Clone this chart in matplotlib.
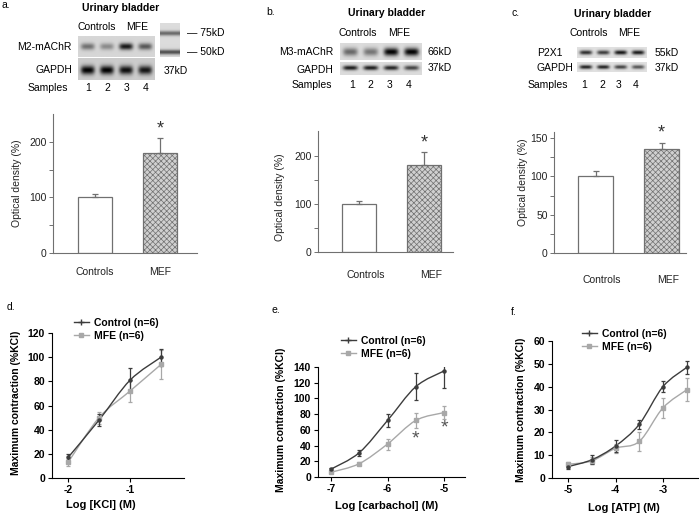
import numpy as np
import matplotlib
matplotlib.use('Agg')
from matplotlib import pyplot as plt
from matplotlib.path import Path
from matplotlib.patches import PathPatch
from matplotlib.lines import Line2D

plt.rcParams['font.family'] = ['Liberation Sans', 'DejaVu Sans']
plt.rcParams['hatch.linewidth'] = 0.5
plt.rcParams['hatch.color'] = '#707070'

# ---- data ----
groups = ['Controls', 'MEF']
od_a = [100, 180]
od_a_err = [6, 26]
od_b = [100, 182]
od_b_err = [7, 26]
od_c = [100, 136]
od_c_err = [7, 8]

# band darkness per lane (1..4)
m2_bands = [0.40, 0.30, 0.75, 0.50]
gapdh_a = [0.80, 0.80, 0.75, 0.72]
marker_bands = [0.45, 0.55]
m3_bands = [0.45, 0.40, 0.85, 0.85]
gapdh_b = [0.75, 0.75, 0.72, 0.60]
p2x1_bands = [0.70, 0.65, 0.80, 0.78]
gapdh_c = [0.75, 0.75, 0.62, 0.55]
lanes = ['1', '2', '3', '4']

kcl_x = [-2, -1.5, -1, -0.5]
kcl_ctrl = [17, 48, 81, 100]
kcl_ctrl_err = [3, 5, 10, 7]
kcl_mfe = [13, 50, 72, 94]
kcl_mfe_err = [3, 5, 9, 12]

cch_x = [-7, -6.5, -6, -5.5, -5]
cch_ctrl = [10, 31, 72, 115, 135]
cch_ctrl_err = [2, 4, 8, 17, 22]
cch_mfe = [6, 17, 42, 72, 82]
cch_mfe_err = [1, 2, 7, 9, 8]
cch_star = [(-5.5, 48), (-5, 62)]

atp_x = [-5, -4.5, -4, -3.5, -3, -2.5]
atp_ctrl = [5, 8, 14, 23.5, 40, 48.4]
atp_ctrl_err = [1.2, 2, 2.5, 2, 2.5, 3]
atp_mfe = [6, 7.5, 13, 16, 30.7, 38.6]
atp_mfe_err = [1, 1.5, 2, 4, 4.5, 5]

W, H = 700, 515
fig = plt.figure(figsize=(W / 100, H / 100), dpi=100)


def px_axes(x0, y0, x1, y1):
    return fig.add_axes([x0 / W, 1 - y1 / H, (x1 - x0) / W, (y1 - y0) / H])


def ftxt(x, y, s, **kw):
    kw.setdefault('fontsize', 7.5)
    kw.setdefault('va', 'center')
    fig.text(x / W, 1 - y / H, s, **kw)


def blot(box, levels, sy, bg, yc=0.5, sx=0.36):
    ax = px_axes(*box)
    n = len(levels)
    xs = np.linspace(0.5, n + 0.5, 200)
    ys = np.linspace(0, 1, 60)
    X, Y = np.meshgrid(xs, ys)
    img = np.full_like(X, bg)
    for k, lev in enumerate(levels, 1):
        img -= lev * np.exp(-((X - k) / sx) ** 4) * np.exp(-((Y - yc) / sy) ** 2)
    ax.imshow(img, cmap='gray', vmin=0, vmax=1, extent=(0.5, n + 0.5, 1, 0),
              aspect='auto', interpolation='bilinear')
    ax.axis('off')
    return ax


def bar_panel(box, vals, errs, ylim, major, minor, star_y, lab_dx, lab_pad):
    ax = px_axes(*box)
    x = np.arange(len(vals))
    ax.bar(x, vals, width=0.52, color=['white', '#d0d0d0'], edgecolor='#707070',
           hatch=['', 'xxxxxx'], linewidth=0.9)
    ax.errorbar(x, vals, yerr=[[0] * len(errs), errs], fmt='none', ecolor='#707070',
                elinewidth=0.9, capsize=2, capthick=0.9)
    ax.set_ylim(*ylim)
    ax.set_yticks(major)
    ax.set_yticks(minor, minor=True)
    ax.set_xticks(x + lab_dx)
    ax.set_xticklabels(groups, fontsize=7.5, color='#222222')
    ax.tick_params(axis='x', length=0, pad=lab_pad)
    ax.tick_params(axis='y', which='both', length=3, width=0.7, color='#707070',
                   labelsize=7.5, labelcolor='#222222', pad=1.5)
    for s in ['top', 'right']:
        ax.spines[s].set_visible(False)
    for s in ['left', 'bottom']:
        ax.spines[s].set_color('#707070')
        ax.spines[s].set_linewidth(0.8)
    ax.text(1, star_y, '*', ha='center', va='center', fontsize=13, color='#333333',
            clip_on=False)
    ax.set_ylabel('Optical density (%)', fontsize=7.5, color='#222222')
    return ax


def smooth(ax, x, y, color):
    pts = list(zip(x, y))
    verts = [pts[0]]
    codes = [Path.MOVETO]
    n = len(pts)
    for i in range(n - 1):
        p0 = np.array(pts[max(i - 1, 0)])
        p1 = np.array(pts[i])
        p2 = np.array(pts[i + 1])
        p3 = np.array(pts[min(i + 2, n - 1)])
        c1 = p1 + (p2 - p0) / 6
        c2 = p2 - (p3 - p1) / 6
        verts += [tuple(c1), tuple(c2), tuple(p2)]
        codes += [Path.CURVE4] * 3
    ax.add_patch(PathPatch(Path(verts, codes), fill=False, ec=color, lw=1.0))


def curve_panel(box, xlim, ylim, xticks, yticks, x, c, ce, m, me, xlabel, leg_xy):
    ax = px_axes(*box)
    dark, light = '#3c3c3c', '#a8a8a8'
    smooth(ax, x, m, light)
    smooth(ax, x, c, dark)
    ax.errorbar(x, m, yerr=me, fmt='s', color=light, ms=3, elinewidth=0.9,
                capsize=1.5, capthick=0.9)
    ax.errorbar(x, c, yerr=ce, fmt='o', color=dark, ms=2.2, elinewidth=0.9,
                capsize=1.5, capthick=0.9)
    ax.set_xlim(*xlim)
    ax.set_ylim(*ylim)
    ax.set_xticks(xticks)
    ax.set_xticklabels([f'{t:d}' for t in xticks])
    ax.set_yticks(yticks)
    ax.tick_params(length=3, width=0.8, labelsize=7.5, pad=2)
    for lab in ax.get_xticklabels() + ax.get_yticklabels():
        lab.set_fontweight('bold')
    for s in ['top', 'right']:
        ax.spines[s].set_visible(False)
    for s in ['left', 'bottom']:
        ax.spines[s].set_linewidth(0.8)
    ax.set_xlabel(xlabel, fontsize=8, fontweight='bold')
    ax.set_ylabel('Maximum contraction (%KCl)', fontsize=7.5, fontweight='bold')
    handles = [Line2D([], [], color=dark, marker='+', ms=4, lw=1),
               Line2D([], [], color=light, marker='s', ms=3, lw=1)]
    ax.legend(handles, ['Control (n=6)', 'MFE (n=6)'], loc='upper left',
              bbox_to_anchor=(leg_xy[0] / W, 1 - leg_xy[1] / H),
              bbox_transform=fig.transFigure, frameon=False, borderpad=0,
              borderaxespad=0, handlelength=1.4, handletextpad=0.5,
              labelspacing=0.25, prop={'size': 7.5, 'weight': 'bold'})
    return ax


# ---- panel a: blot ----
ftxt(1, 5, 'a.')
ftxt(121, 8, 'Urinary bladder', ha='center', fontweight='bold')
ftxt(97, 27, 'Controls', ha='center')
ftxt(137, 27, 'MFE', ha='center')
blot((78, 36, 155, 57), m2_bands, 0.16, 0.84, yc=0.5)
blot((78, 58, 155, 80), gapdh_a, 0.2, 0.80, yc=0.55)
mk = px_axes(160, 23, 180, 57)
img = np.full((80, 20), 0.86)
yy = np.linspace(0, 1, 80)[:, None]
for pos, lev in zip([0.3, 0.86], marker_bands):
    img -= lev * np.exp(-((yy - pos) / 0.07) ** 2) * np.ones((1, 20))
mk.imshow(img, cmap='gray', vmin=0, vmax=1, aspect='auto', extent=(0, 1, 1, 0))
mk.axis('off')
ftxt(72, 47, 'M2-mAChR', ha='right')
ftxt(72, 70, 'GAPDH', ha='right')
ftxt(187, 33, '\u2014 75kD')
ftxt(187, 52, '\u2014 50kD')
ftxt(164, 71, '37kD')
ftxt(48, 88, 'Samples', ha='center')
for xp, s in zip([88, 107, 127, 146], lanes):
    ftxt(xp, 88, s, ha='center')

# ---- panel b: blot ----
ftxt(266, 12, 'b.')
ftxt(387, 13, 'Urinary bladder', ha='center', fontweight='bold')
ftxt(358, 33, 'Controls', ha='center')
ftxt(399, 33, 'MFE', ha='center')
blot((340, 43, 422, 60), m3_bands, 0.22, 0.86, yc=0.55)
blot((340, 62, 422, 75), gapdh_b, 0.18, 0.86, yc=0.45)
ftxt(333, 52, 'M3-mAChR', ha='right')
ftxt(333, 70, 'GAPDH', ha='right')
ftxt(428, 52, '66kD')
ftxt(428, 68, '37kD')
ftxt(312, 85, 'Samples', ha='center')
for xp, s in zip([352, 370, 390, 409], lanes):
    ftxt(xp, 85, s, ha='center')

# ---- panel c: blot ----
ftxt(511, 13, 'c.')
ftxt(613, 14, 'Urinary bladder', ha='center', fontweight='bold')
ftxt(589, 33, 'Controls', ha='center')
ftxt(629, 33, 'MFE', ha='center')
blot((577, 47, 647, 58), p2x1_bands, 0.2, 0.88, yc=0.5)
blot((577, 62, 647, 72), gapdh_c, 0.2, 0.88, yc=0.5)
ftxt(537, 53, 'P2X1')
ftxt(573, 68, 'GAPDH', ha='right')
ftxt(655, 53, '55kD')
ftxt(655, 68, '37kD')
ftxt(548, 85, 'Samples', ha='center')
for xp, s in zip([584, 602, 619, 636], lanes):
    ftxt(xp, 85, s, ha='center')

# ---- optical density bars ----
ax = bar_panel((53, 114, 197, 253), od_a, od_a_err, (0, 250), [0, 100, 200], [50, 150],
               223, 0.0, 10)
ax.set_xlim(-0.646, 1.57)
ax.yaxis.set_label_coords(22 / W, 1 - 183 / H, transform=fig.transFigure)

ax = bar_panel((318, 131, 453, 252), od_b, od_b_err, (0, 252), [0, 100, 200], [50, 150],
               227, 0.11, 13)
ax.set_xlim(-0.63, 1.45)
ax.yaxis.set_label_coords(285 / W, 1 - 197 / H, transform=fig.transFigure)

ax = bar_panel((554, 132, 686, 253), od_c, od_c_err, (0, 158), [0, 50, 100, 150],
               [25, 75, 125], 157, 0.1, 16)
ax.set_xlim(-0.63, 1.37)
ax.yaxis.set_label_coords(528 / W, 1 - 182 / H, transform=fig.transFigure)

# ---- contraction curves ----
ftxt(7, 307, 'd.')
ax = curve_panel((52, 333, 184, 478), (-2.26, -0.13), (0, 120), [-2, -1],
                 range(0, 121, 20), kcl_x, kcl_ctrl, kcl_ctrl_err, kcl_mfe, kcl_mfe_err,
                 'Log [KCl] (M)', (74, 318))
ax.yaxis.set_label_coords(21 / W, 1 - 403 / H, transform=fig.transFigure)
ax.xaxis.set_label_coords(101 / W, 1 - 500 / H, transform=fig.transFigure)

ftxt(272, 310, 'e.')
ax = curve_panel((318, 367, 465, 477), (-7.23, -4.63), (0, 140), [-7, -6, -5],
                 range(0, 141, 20), cch_x, cch_ctrl, cch_ctrl_err, cch_mfe, cch_mfe_err,
                 'Log [carbachol] (M)', (341, 336))
ax.yaxis.set_label_coords(286 / W, 1 - 420 / H, transform=fig.transFigure)
ax.xaxis.set_label_coords(387 / W, 1 - 501 / H, transform=fig.transFigure)
for sx_, sy_ in cch_star:
    ax.text(sx_, sy_, '*', ha='center', va='center', fontsize=14, color='#555555')

ftxt(511, 312, 'f.')
ax = curve_panel((552, 341, 698, 478), (-5.34, -2.26), (0, 60), [-5, -4, -3],
                 range(0, 61, 10), atp_x, atp_ctrl, atp_ctrl_err, atp_mfe, atp_mfe_err,
                 'Log [ATP] (M)', (582, 329))
ax.yaxis.set_label_coords(526 / W, 1 - 410 / H, transform=fig.transFigure)
ax.xaxis.set_label_coords(624 / W, 1 - 503 / H, transform=fig.transFigure)

fig.savefig('out.png', dpi=100)
